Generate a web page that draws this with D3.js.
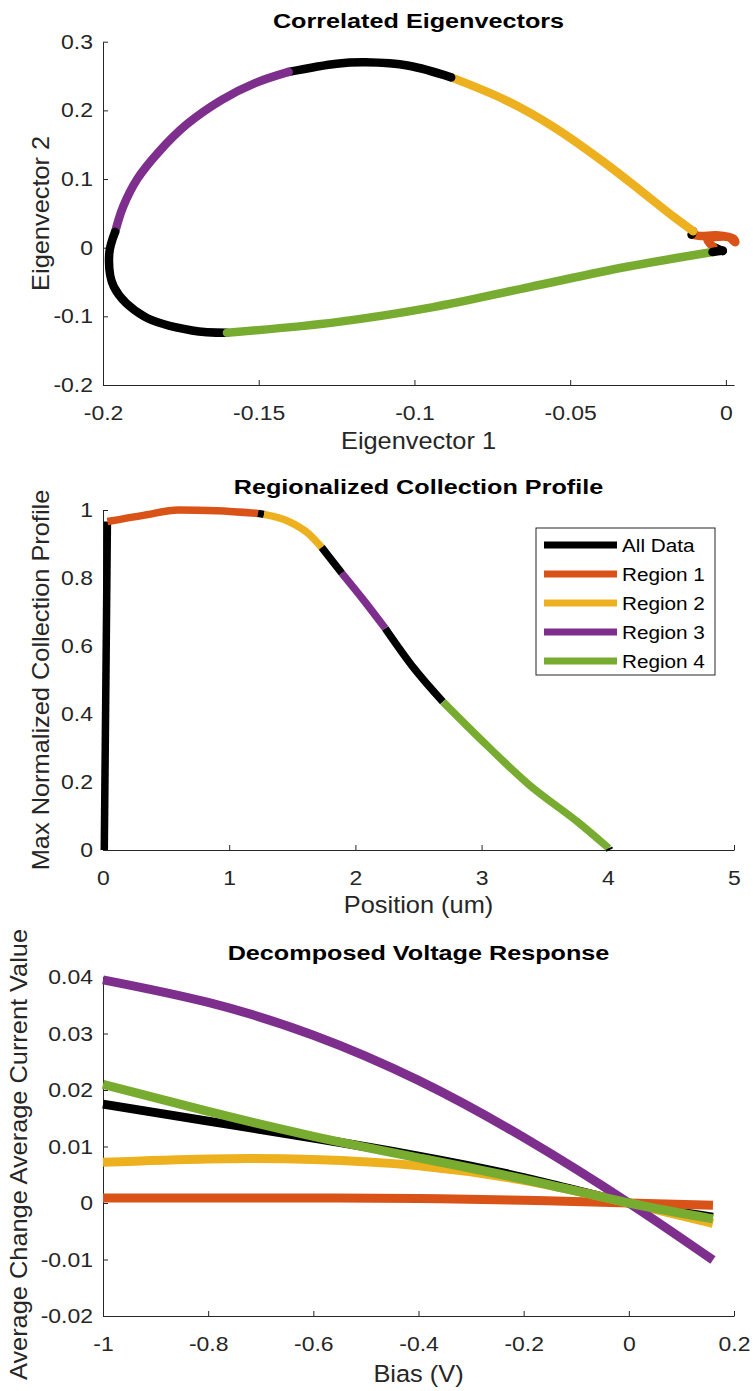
<!DOCTYPE html>
<html>
<head>
<meta charset="utf-8">
<script src="https://cdn.jsdelivr.net/npm/d3@7"></script>
<style>
  body { margin: 0; background: #fff; }
  svg { display: block; font-family: "Liberation Sans", Arial, Helvetica, sans-serif; }
</style>
</head>
<body>
<div id="chart"></div>
<script>
// ---- data ----
let regionNames = ["All Data", "Region 1", "Region 2", "Region 3", "Region 4"];
let regionColors = ["#000000", "#D95319", "#EDB120", "#7E2F8E", "#77AC30"];

// panel 1: path through eigenvector space, region code per point (0 = all data)
let eigX = [-0.001, -0.004, -0.006, -0.002, 0.001, 0.003, 0.0025, -0.003, -0.008, -0.011,
            -0.0105, -0.0167, -0.0275, -0.0399, -0.0554, -0.0708, -0.0882,
            -0.1018, -0.1157, -0.125, -0.1404,
            -0.151, -0.162, -0.173, -0.182, -0.189, -0.1935, -0.1961,
            -0.198, -0.1965, -0.1868, -0.1714, -0.1602,
            -0.125, -0.094, -0.0631, -0.0322, -0.0043,
            -0.001];
let eigY = [-0.005, 0.001, 0.012, 0.016, 0.015, 0.008, 0.013, 0.018, 0.017, 0.019,
            0.024, 0.0447, 0.0836, 0.127, 0.176, 0.215, 0.248,
            0.265, 0.270, 0.268, 0.256,
            0.240, 0.215, 0.180, 0.140, 0.100, 0.060, 0.023,
            -0.009, -0.057, -0.100, -0.1206, -0.124,
            -0.1084, -0.0866, -0.0574, -0.0282, -0.0063,
            -0.004];
let eigRegion = [0, 0, 1, 1, 1, 1, 1, 1, 1, 1,
                 0, 2, 2, 2, 2, 2, 2,
                 0, 0, 0, 0,
                 3, 3, 3, 3, 3, 3, 3,
                 0, 0, 0, 0, 0,
                 4, 4, 4, 4, 4,
                 0];

// panel 2: collection profile vs position
let posX = [0.01, 0.035, 0.33, 0.6, 0.9, 1.227, 1.276, 1.474, 1.627, 1.733,
            1.893, 2.065, 2.236, 2.465, 2.693, 2.998, 3.379, 3.76, 4.008, 4.015];
let profY = [0, 0.966, 0.985, 1.0, 0.998, 0.99, 0.987, 0.966, 0.931, 0.89,
             0.814, 0.735, 0.652, 0.534, 0.436, 0.3235, 0.191, 0.083, 0.005, 0.0];
let profRegion = [0, 0, 1, 1, 1, 1, 0, 2, 2, 2,
                  0, 3, 3, 0, 0, 4, 4, 4, 4, 0];

// panel 3: voltage response
let biasV = [-1, -0.8, -0.6, -0.4, -0.2, 0, 0.16];
let respAll = [0.0175, 0.0145, 0.0115, 0.0083, 0.0045, 0, -0.0025];
let resp1 = [0.0009, 0.0009, 0.0009, 0.0008, 0.0005, 0, -0.0004];
let resp2 = [0.0072, 0.0078, 0.0077, 0.0066, 0.004, 0, -0.0036];
let resp3 = [0.0395, 0.0355, 0.0297, 0.0217, 0.0116, 0, -0.0101];
let resp4 = [0.021, 0.0162, 0.0118, 0.008, 0.0042, 0, -0.0028];

let ticks1x = [-0.2, -0.15, -0.1, -0.05, 0];
let ticks1y = [-0.2, -0.1, 0, 0.1, 0.2, 0.3];
let ticks2x = [0, 1, 2, 3, 4, 5];
let ticks2y = [0, 0.2, 0.4, 0.6, 0.8, 1];
let ticks3x = [-1, -0.8, -0.6, -0.4, -0.2, 0, 0.2];
let ticks3y = [-0.02, -0.01, 0, 0.01, 0.02, 0.03, 0.04];

// ---- layout ----
const W = 753, H = 1391;
const AX = "#262626";
const TICK_SX = 1.12, LABEL_SX = 1.08, TITLE_SX = 1.2;

var svg = d3.select("#chart").append("svg")
    .attr("width", W)
    .attr("height", H);

// split a point path into runs of one region; each run starts at the last point of the previous run
function splitRuns(xs, ys, regs) {
    let out = [], cur = null;
    for (let i = 0; i < xs.length; i++) {
        if (!cur || regs[i] !== cur.r) {
            let prev = cur ? cur.pts[cur.pts.length - 1] : null;
            cur = { r: regs[i], pts: prev ? [prev] : [] };
            out.push(cur);
        }
        cur.pts.push([xs[i], ys[i]]);
    }
    return out;
}

function drawAxes(box, xDom, yDom, xt, yt, title, xLabel, yLabel, yLabelX, yLabelShift, titleY, xLabelY) {
    let x = d3.scaleLinear().domain(xDom).range([box.left, box.right]);
    let y = d3.scaleLinear().domain(yDom).range([box.bottom, box.top]);

    let gx = svg.append("g")
        .attr("transform", `translate(0,${box.bottom})`)
        .call(d3.axisBottom(x).tickValues(xt).tickFormat(d => String(d))
            .tickSizeInner(-5).tickSizeOuter(0).tickPadding(20));
    let gy = svg.append("g")
        .attr("transform", `translate(${box.left},0)`)
        .call(d3.axisLeft(y).tickValues(yt).tickFormat(d => String(d))
            .tickSizeInner(-5).tickSizeOuter(0).tickPadding(10 / TICK_SX));

    [gx, gy].forEach(g => {
        g.select(".domain").attr("stroke", AX);
        g.selectAll(".tick line").attr("stroke", AX);
        g.selectAll(".tick text")
            .attr("fill", AX)
            .style("font-size", "20.5px")
            .attr("transform", `scale(${TICK_SX},1)`);
    });

    let cx = (box.left + box.right) / 2, cy = (box.top + box.bottom) / 2 + yLabelShift;
    svg.append("text")
        .attr("transform", `translate(${cx},${titleY}) scale(${TITLE_SX},1)`)
        .attr("text-anchor", "middle")
        .style("font-size", "21px")
        .style("font-weight", "bold")
        .attr("fill", "#000")
        .text(title);
    svg.append("text")
        .attr("transform", `translate(${cx},${xLabelY}) scale(${LABEL_SX},1)`)
        .attr("text-anchor", "middle")
        .style("font-size", "23.5px")
        .attr("fill", AX)
        .text(xLabel);
    svg.append("text")
        .attr("transform", `translate(${yLabelX},${cy}) rotate(-90) scale(${LABEL_SX},1)`)
        .attr("text-anchor", "middle")
        .style("font-size", "23.5px")
        .attr("fill", AX)
        .text(yLabel);

    return { x: x, y: y };
}

// ---- panel 1 ----
let box1 = { left: 103, right: 734, top: 41.7, bottom: 385 };
let s1 = drawAxes(box1, [-0.2, 0.0026], [-0.2, 0.3], ticks1x, ticks1y,
    "Correlated Eigenvectors", "Eigenvector 1", "Eigenvector 2", 49, 0, 28, 449);

let line1 = d3.line()
    .x(d => s1.x(d[0]))
    .y(d => s1.y(d[1]))
    .curve(d3.curveCatmullRom.alpha(0.5));

svg.append("g").selectAll("path")
    .data(splitRuns(eigX, eigY, eigRegion))
    .enter().append("path")
    .attr("d", d => line1(d.pts))
    .attr("fill", "none")
    .attr("stroke", d => regionColors[d.r])
    .attr("stroke-width", 8.5)
    .attr("stroke-linejoin", "round")
    .attr("stroke-linecap", "round");

// ---- panel 2 ----
let box2 = { left: 103, right: 734, top: 510, bottom: 850 };
let s2 = drawAxes(box2, [0, 5], [0, 1], ticks2x, ticks2y,
    "Regionalized Collection Profile", "Position (um)", "Max Normalized Collection Profile", 49, 0, 494, 913);

let line2 = d3.line()
    .x(d => s2.x(d[0]))
    .y(d => s2.y(d[1]))
    .curve(d3.curveMonotoneX);

svg.append("g").selectAll("path")
    .data(splitRuns(posX, profY, profRegion))
    .enter().append("path")
    .attr("d", d => line2(d.pts))
    .attr("fill", "none")
    .attr("stroke", d => regionColors[d.r])
    .attr("stroke-width", 7.5)
    .attr("stroke-linejoin", "round")
    .attr("stroke-linecap", "butt");

// legend
let legend = svg.append("g");
legend.append("rect")
    .attr("x", 536).attr("y", 528)
    .attr("width", 179).attr("height", 147)
    .attr("fill", "#fff")
    .attr("stroke", AX)
    .attr("stroke-width", 1);
regionNames.forEach((name, i) => {
    let ly = 545 + i * 29;
    legend.append("line")
        .attr("x1", 544).attr("x2", 617)
        .attr("y1", ly).attr("y2", ly)
        .attr("stroke", regionColors[i])
        .attr("stroke-width", 7);
    legend.append("text")
        .attr("transform", `translate(622,${ly}) scale(1.12,1)`)
        .attr("dy", "0.36em")
        .style("font-size", "18.5px")
        .attr("fill", "#000")
        .text(name);
});

// ---- panel 3 ----
let box3 = { left: 103, right: 734, top: 977, bottom: 1316 };
let s3 = drawAxes(box3, [-1, 0.2], [-0.02, 0.04], ticks3x, ticks3y,
    "Decomposed Voltage Response", "Bias (V)", "Average Change Average Current Value", 27, 8, 960, 1382);

let line3 = d3.line()
    .x((d, i) => s3.x(biasV[i]))
    .y(d => s3.y(d))
    .curve(d3.curveNatural);

let series3 = [respAll, resp1, resp2, resp3, resp4];
svg.append("g").selectAll("path")
    .data(series3)
    .enter().append("path")
    .attr("d", d => line3(d))
    .attr("fill", "none")
    .attr("stroke", (d, i) => regionColors[i])
    .attr("stroke-width", 9)
    .attr("stroke-linejoin", "round");
</script>
</body>
</html>
